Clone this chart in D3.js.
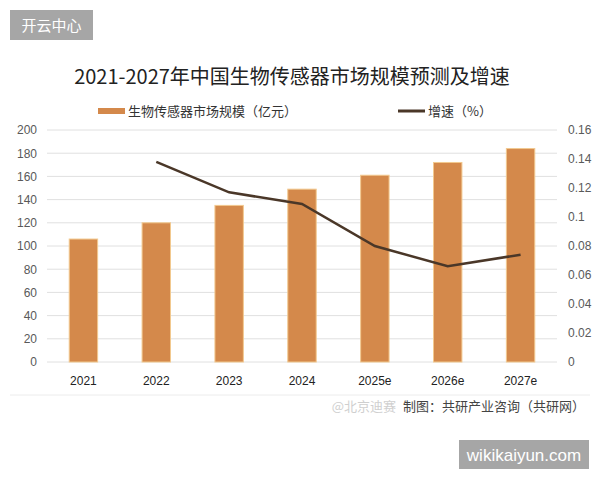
<!DOCTYPE html>
<html>
<head>
<meta charset="utf-8">
<script src="https://cdn.jsdelivr.net/npm/d3@7"></script>
<style>
  body { margin: 0; background: #fff; }
  svg { font-family: "Noto Sans CJK SC", "Noto Sans", sans-serif; }
</style>
</head>
<body>
<svg width="600" height="480"></svg>
<script>
var years = ["2021", "2022", "2023", "2024", "2025e", "2026e", "2027e"];
var scale = [106, 120, 135, 149, 161, 172, 184];           // 生物传感器市场规模（亿元）
var growth = [null, 0.138, 0.117, 0.109, 0.080, 0.066, 0.074]; // 增速
var leftTicks = [0, 20, 40, 60, 80, 100, 120, 140, 160, 180, 200];
var rightTicks = [0, 0.02, 0.04, 0.06, 0.08, 0.1, 0.12, 0.14, 0.16];

var svg = d3.select("svg");
var margin = {top: 130, left: 47, right: 43, bottom: 118};
var width = 600 - margin.left - margin.right,
    height = 480 - margin.top - margin.bottom;

// watermark box top-left
svg.append("rect").attr("x", 10).attr("y", 10).attr("width", 83).attr("height", 30).attr("fill", "#a6a6a6");
svg.append("text").attr("x", 51.5).attr("y", 31).attr("text-anchor", "middle")
  .attr("fill", "#fff").style("font-size", "15px").text("开云中心");

// title
svg.append("text").attr("x", 292).attr("y", 84).attr("text-anchor", "middle")
  .attr("fill", "#222").style("font-size", "20px").text("2021-2027年中国生物传感器市场规模预测及增速");

// legend
svg.append("rect").attr("x", 98).attr("y", 108).attr("width", 27).attr("height", 6).attr("fill", "#d4894b");
svg.append("text").attr("x", 128).attr("y", 116).attr("fill", "#333").style("font-size", "13px").text("生物传感器市场规模（亿元）");
svg.append("line").attr("x1", 398).attr("x2", 425).attr("y1", 111).attr("y2", 111)
  .attr("stroke", "#4a3728").attr("stroke-width", 3);
svg.append("text").attr("x", 428).attr("y", 116).attr("fill", "#333").style("font-size", "13px").text("增速（%）");

var g = svg.append("g").attr("transform", "translate(" + margin.left + "," + margin.top + ")");

var x = d3.scaleBand().domain(years).range([0, width]).paddingInner(0.61).paddingOuter(0.305);
var y = d3.scaleLinear().domain([0, 200]).range([height, 0]);
var y1 = d3.scaleLinear().domain([0, 0.16]).range([height, 0]);

// grid
g.selectAll(".grid").data(leftTicks).enter().append("line")
  .attr("x1", 0).attr("x2", width)
  .attr("y1", function(d) { return y(d); }).attr("y2", function(d) { return y(d); })
  .attr("stroke", "#e0e0e0").attr("stroke-width", 1);

// left axis
var ya = g.append("g").call(d3.axisLeft(y).tickValues(leftTicks).tickSize(0).tickPadding(10));
ya.select(".domain").remove();
ya.selectAll("text").attr("fill", "#595959").style("font-size", "12px");

// right axis
var yb = g.append("g").attr("transform", "translate(" + width + ",0)")
  .call(d3.axisRight(y1).tickValues(rightTicks).tickSize(0).tickPadding(11).tickFormat(function(d) { return String(+d.toFixed(2)); }));
yb.select(".domain").remove();
yb.selectAll("text").attr("fill", "#595959").style("font-size", "12px");

// bars
g.selectAll(".bar").data(scale).enter().append("rect")
  .attr("x", function(d, i) { return x(years[i]); })
  .attr("y", function(d) { return y(d); })
  .attr("width", x.bandwidth())
  .attr("height", function(d) { return height - y(d); })
  .attr("fill", "#d4894b").attr("stroke", "#f2c98f").attr("stroke-width", 1);

// x axis labels
var xa = g.append("g").attr("transform", "translate(0," + height + ")")
  .call(d3.axisBottom(x).tickSize(0).tickPadding(14));
xa.select(".domain").remove();
xa.selectAll("text").attr("fill", "#222").style("font-size", "12px");

// growth line
var pts = years.map(function(d, i) { return {year: d, v: growth[i]}; }).filter(function(d) { return d.v !== null; });
g.append("path").datum(pts)
  .attr("fill", "none").attr("stroke", "#4a3728").attr("stroke-width", 2.5)
  .attr("d", d3.line()
    .x(function(d) { return x(d.year) + x.bandwidth() / 2; })
    .y(function(d) { return y1(d.v); }));

// bottom border
svg.append("line").attr("x1", 10).attr("x2", 590).attr("y1", 395).attr("y2", 395)
  .attr("stroke", "#ececec").attr("stroke-width", 1);

// source
svg.append("text").attr("x", 585).attr("y", 411).attr("text-anchor", "end")
  .attr("fill", "#444").style("font-size", "13px").text("制图：共研产业咨询（共研网）");
svg.append("text").attr("x", 396).attr("y", 411).attr("text-anchor", "end")
  .attr("fill", "#cfcfcf").style("font-size", "13px").text("@北京迪赛");

// watermark box bottom-right
svg.append("rect").attr("x", 459).attr("y", 440).attr("width", 130).attr("height", 29).attr("fill", "#a6a6a6");
svg.append("text").attr("x", 524).attr("y", 461).attr("text-anchor", "middle")
  .attr("fill", "#fff").style("font-family", "'Liberation Sans', Arial, sans-serif").style("font-size", "17px").text("wikikaiyun.com");
</script>
</body>
</html>
